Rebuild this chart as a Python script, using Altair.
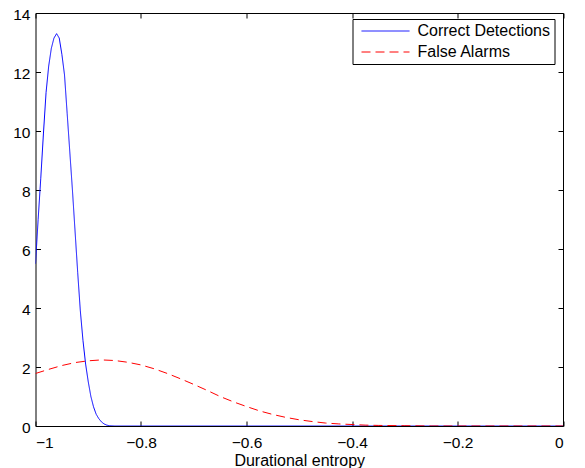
import altair as alt
import pandas as pd

# Correct Detections (blue solid)
cd_x = [-1.0, -0.995, -0.99, -0.985, -0.98, -0.975, -0.97, -0.965, -0.96, -0.955,
        -0.95, -0.945, -0.94, -0.935, -0.93, -0.925, -0.92, -0.915, -0.91, -0.905,
        -0.9, -0.895, -0.89, -0.885, -0.88, -0.875, -0.87, -0.865, -0.86, -0.85,
        -0.8, -0.6, -0.4, -0.2, 0.0]
cd_y = [5.5, 7.0, 8.4, 9.9, 11.3, 12.2, 12.8, 13.15, 13.3, 13.15,
        12.6, 11.9, 10.6, 9.3, 8.0, 6.6, 5.2, 3.9, 2.9, 2.1,
        1.5, 1.0, 0.65, 0.4, 0.25, 0.14, 0.07, 0.03, 0.01, 0.0,
        0.0, 0.0, 0.0, 0.0, 0.0]

# False Alarms (red dashed)
fa_x = [-1.0, -0.975, -0.95, -0.925, -0.9, -0.875, -0.85, -0.825, -0.8, -0.775,
        -0.75, -0.725, -0.7, -0.675, -0.65, -0.625, -0.6, -0.575, -0.55, -0.525,
        -0.5, -0.475, -0.45, -0.425, -0.4, -0.375, -0.35, -0.3, -0.25, -0.2,
        -0.1, 0.0]
fa_y = [1.78, 1.92, 2.05, 2.15, 2.21, 2.24, 2.22, 2.16, 2.07, 1.94,
        1.78, 1.6, 1.41, 1.21, 1.0, 0.82, 0.66, 0.51, 0.39, 0.29,
        0.21, 0.15, 0.1, 0.07, 0.05, 0.03, 0.02, 0.01, 0.0, 0.0,
        0.0, 0.0]

series_names = ["Correct Detections", "False Alarms"]
x_ticks = [-1.0, -0.8, -0.6, -0.4, -0.2, 0.0]
y_ticks = [0, 2, 4, 6, 8, 10, 12, 14]

W, H = 527.5, 413
FONT = "Liberation Sans"
FS = 15.5
TK = 5  # inward tick length

rows = [{"x": a, "y": b, "series": series_names[0]} for a, b in zip(cd_x, cd_y)]
rows += [{"x": a, "y": b, "series": series_names[1]} for a, b in zip(fa_x, fa_y)]
df = pd.DataFrame(rows)

xscale = alt.Scale(domain=[-1, 0], nice=False, zero=False)
yscale = alt.Scale(domain=[0, 14], nice=False)

lines = alt.Chart(df).mark_line(strokeWidth=1, clip=True).encode(
    x=alt.X("x:Q", scale=xscale,
            axis=alt.Axis(values=x_ticks, format=".1~f", title="Durational entropy",
                          orient="bottom", offset=-TK, ticks=True, tickSize=TK,
                          labelPadding=9, titlePadding=2, titleFontSize=16)),
    y=alt.Y("y:Q", scale=yscale,
            axis=alt.Axis(values=y_ticks, format="d", title=None, orient="left",
                          offset=-TK, ticks=True, tickSize=TK,
                          labelPadding=5.5, labelOffset=1)),
    color=alt.Color("series:N",
                    scale=alt.Scale(domain=series_names, range=["#0000ff", "#ff0000"]),
                    legend=alt.Legend(title=None, orient="none", legendX=317, legendY=6,
                                      symbolType="M-0.5,0H7.5", symbolSize=144,
                                      symbolStrokeWidth=1, labelFont=FONT, labelFontSize=16,
                                      labelColor="black", strokeColor="black",
                                      fillColor="white", padding=4, rowPadding=5,
                                      labelOffset=45)),
    strokeDash=alt.StrokeDash("series:N",
                              scale=alt.Scale(domain=series_names, range=[[1, 0], [9, 5]]),
                              legend=None),
    order=alt.Order("x:Q"),
)

# invisible twin layer carrying the top and right axes (inward ticks, no labels)
frame = alt.Chart(df).mark_line(strokeOpacity=0).encode(
    x=alt.X("x:Q", scale=xscale,
            axis=alt.Axis(values=x_ticks, orient="top", offset=-TK, ticks=True,
                          tickSize=TK, labels=False, title=None)),
    y=alt.Y("y:Q", scale=yscale,
            axis=alt.Axis(values=y_ticks, orient="right", offset=-TK, ticks=True,
                          tickSize=TK, labels=False, title=None)),
    detail="series:N",
)

chart = alt.layer(frame, lines).resolve_axis(x="independent", y="independent").properties(
    width=W, height=H,
    background="white",
    autosize=alt.AutoSizeParams(type="none"),
    padding={"left": 27.5, "top": 5, "right": 14, "bottom": 44},
).configure_view(stroke="black", strokeWidth=1).configure_axis(
    domain=False, grid=False, labelFont=FONT, labelFontSize=FS,
    labelColor="black", titleFont=FONT, titleFontSize=16, titleFontWeight="normal",
    titleColor="black", tickColor="black", tickWidth=1,
)

chart.save("out.html", embed_options={"renderer": "svg", "actions": False})
